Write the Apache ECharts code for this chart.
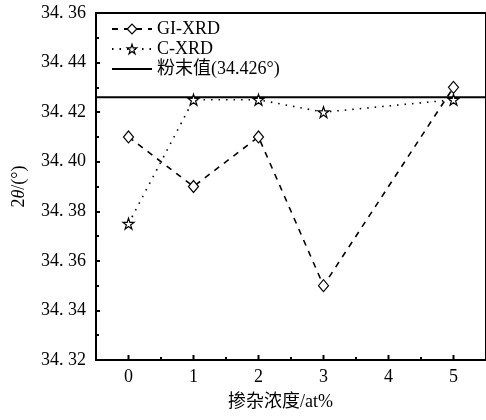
<!DOCTYPE html>
<html>
<head>
<meta charset="utf-8">
<script src="https://cdn.jsdelivr.net/npm/echarts@6/dist/echarts.min.js"></script>
<style>
html,body{margin:0;padding:0;background:#fff;}
#chart{width:486px;height:420px;}
</style>
</head>
<body>
<div id="chart"></div>
<script>
// doping concentration (at%) and measured 2θ peak positions
const giX = [0, 1, 2, 3, 5];
const giY = [34.41, 34.39, 34.41, 34.35, 34.43];
const cX = [0, 1, 2, 3, 5];
const cY = [34.375, 34.425, 34.425, 34.42, 34.425];
const powderValue = 34.426;
const powderX = [-0.5, 5.5];
const yTickLabels = ['34. 32', '34. 34', '34. 36', '34. 38', '34. 40', '34. 42', '34. 44', '34. 36'];
const xTickLabels = ['0', '1', '2', '3', '4', '5'];
const seriesNames = ['GI-XRD', 'C-XRD', '粉末值(34.426°)'];

const FONT = '"Liberation Serif", "Noto Sans CJK SC", serif';
const STAR = 'path://M50,0 L61.8,35.5 L99,35.5 L69,57.5 L80.5,93 L50,71 L19.5,93 L31,57.5 L1,35.5 L38.2,35.5 Z';

const chart = echarts.init(document.getElementById('chart'), null, {renderer: 'canvas'});
const pairs = (xs, ys) => xs.map((x, i) => [x, ys[i]]);
const hollow = {color: '#fff', borderColor: '#000', borderWidth: 1.2};

chart.setOption({
  animation: false,
  backgroundColor: '#fff',
  grid: {left: 96, top: 13, width: 394, height: 347, show: true, borderColor: '#000', borderWidth: 2},
  legend: {
    orient: 'vertical', left: 106, top: 15, itemGap: 2, itemWidth: 40, itemHeight: 12,
    textStyle: {fontFamily: FONT, fontSize: 18, color: '#000'},
    data: [
      {name: seriesNames[0], itemStyle: hollow},
      {name: seriesNames[1], itemStyle: hollow},
      {name: seriesNames[2], itemStyle: {opacity: 0}}
    ]
  },
  xAxis: {
    type: 'value', min: -0.5, max: 5.5, interval: 0.5,
    axisLine: {onZero: false, lineStyle: {color: '#000', width: 2}},
    axisTick: {show: false},
    splitLine: {show: false},
    axisLabel: {show: false}
  },
  yAxis: {
    type: 'value', min: 34.32, max: 34.46, interval: 0.02,
    axisLine: {show: true, onZero: false, lineStyle: {color: '#000', width: 2}},
    axisTick: {inside: true, length: 4, lineStyle: {color: '#000', width: 2}},
    minorTick: {show: true, splitNumber: 2, length: 3, lineStyle: {color: '#000', width: 2}},
    splitLine: {show: false},
    axisLabel: {
      fontFamily: FONT, fontSize: 18, color: '#000', margin: 10,
      formatter: v => yTickLabels[Math.round((v - 34.32) / 0.02)]
    },
    name: '{a|2}{b|θ}{a|/(°)}', nameLocation: 'middle', nameGap: 68, nameRotate: 90,
    nameTextStyle: {
      rich: {
        a: {fontFamily: FONT, fontSize: 18, color: '#000'},
        b: {fontFamily: FONT, fontSize: 18, fontStyle: 'italic', color: '#000'}
      }
    }
  },
  series: [
    {
      name: seriesNames[0], type: 'line', data: pairs(giX, giY),
      symbol: 'diamond', symbolSize: [10, 12], showAllSymbol: true,
      lineStyle: {color: '#000', width: 1.6, type: [6, 6]},
      itemStyle: hollow,
      z: 3
    },
    {
      name: seriesNames[1], type: 'line', data: pairs(cX, cY),
      symbol: STAR, symbolSize: 11, showAllSymbol: true,
      lineStyle: {color: '#000', width: 1.6, type: [1.5, 6]},
      itemStyle: hollow,
      z: 3
    },
    {
      name: seriesNames[2], type: 'line', data: powderX.map(x => [x, powderValue]),
      symbol: 'none', lineStyle: {color: '#000', width: 2}, itemStyle: {color: '#000'},
      z: 2
    },
    {
      // ticks and labels for the concentration axis
      type: 'custom', silent: true, z: 4,
      data: xTickLabels.map((t, i) => [i]),
      renderItem: (params, api) => {
        const p = api.coord([api.value(0), 34.32]);
        const h = api.coord([api.value(0) + 0.5, 34.32]);
        return {type: 'group', children: [
          {type: 'line', shape: {x1: p[0], y1: p[1], x2: p[0], y2: p[1] - 5}, style: {stroke: '#000', lineWidth: 2}},
          {type: 'line', shape: {x1: h[0], y1: h[1], x2: h[0], y2: h[1] - 3}, style: {stroke: '#000', lineWidth: 2}},
          {type: 'text', x: p[0], y: p[1] + 17, style: {text: xTickLabels[params.dataIndex], fontFamily: FONT, fontSize: 18, fill: '#000', align: 'center', verticalAlign: 'middle'}}
        ]};
      }
    }
  ],
  graphic: [{
    type: 'text', left: 228, top: 393,
    style: {text: '掺杂浓度/at%', fontFamily: FONT, fontSize: 18, fill: '#000'}
  }]
});
</script>
</body>
</html>
